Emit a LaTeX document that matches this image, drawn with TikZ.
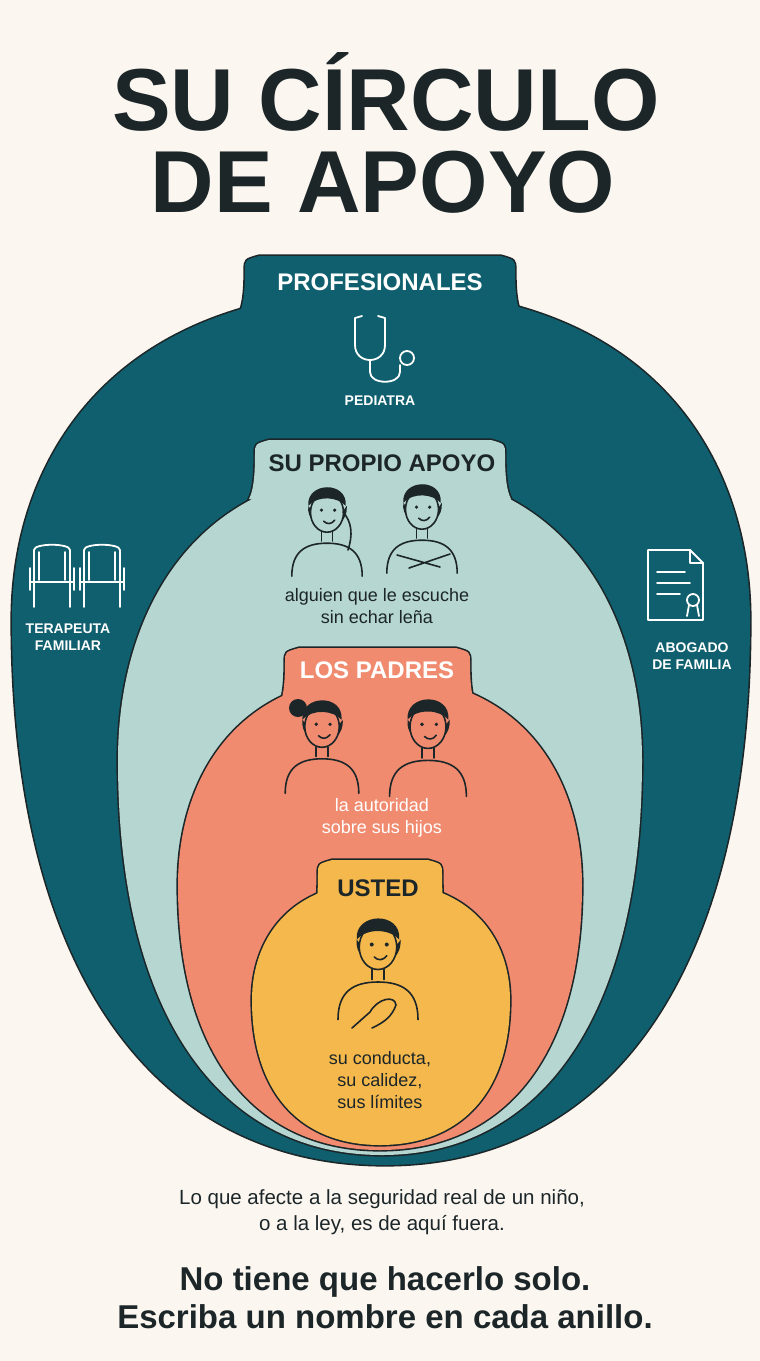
\documentclass[tikz,border=0pt]{standalone}
\usepackage{fontspec}
\setmainfont{Liberation Sans}
\definecolor{bg}{HTML}{FBF7F0}
\definecolor{teal}{HTML}{0F5F6E}
\definecolor{mint}{HTML}{B6D6D1}
\definecolor{salmon}{HTML}{F08B6F}
\definecolor{gold}{HTML}{F5B84C}
\definecolor{ink}{HTML}{1C2629}
\newcommand{\eggpath}[6]{% xL xR yt ym yb xc
 (#6,-#3) .. controls ({#6+0.72*(#2-#6)},-#3) and (#2,{-#3-0.5*(#4-#3)}) .. (#2,-#4)
 .. controls (#2,{-#4-0.66*(#5-#4)}) and ({#6+0.6*(#2-#6)},-#5) .. (#6,-#5)
 .. controls ({#6-0.6*(#6-#1)},-#5) and (#1,{-#4-0.66*(#5-#4)}) .. (#1,-#4)
 .. controls (#1,{-#4+0.5*(#4-#3)}) and ({#6-0.72*(#6-#1)},-#3) .. (#6,-#3) -- cycle}
\newcommand{\tabpath}[4]{% xL xR yt yb
 ({#1-6},{-#4-14}) .. controls ({#1-2},{-#4-6}) and (#1,{-#4+6}) .. (#1,{-#3-14}) .. controls (#1,{-#3-4}) .. ({#1+14},-#3) -- ({#2-14},-#3) .. controls (#2,{-#3-4}) .. (#2,{-#3-14}) .. controls (#2,{-#4+6}) and ({#2+2},{-#4-6}) .. ({#2+6},{-#4-14}) -- cycle}
% \person{x}{y of head centre}{scale}{face colour}
\newcommand{\person}[4]{%
 \begin{scope}[shift={(#1,-#2)}, scale=#3]
  \fill[ink] (-17,2) .. controls (-20,-22) and (20,-24) .. (18,2) .. controls (14,-8) and (-10,-10) .. (-17,2) -- cycle;
  \path[draw=ink, fill=#4, line width=1.6pt] (0,-4) ellipse (15 and 18);
  \fill[ink] (-17,2) .. controls (-19,24) and (19,25) .. (17,2) .. controls (10,10) and (-8,12) .. (-17,2) -- cycle;
  \fill[ink] (-5,-2) circle (1.6) (7,-2) circle (1.6);
  \draw[icon] (-3,-12) .. controls (0,-15) and (4,-15) .. (7,-11);
  \draw[icon] (-5,-22) -- (-5,-30) (5,-22) -- (5,-30);
  \draw[icon] (-32,-62) .. controls (-32,-40) and (-20,-32) .. (0,-32) .. controls (20,-32) and (32,-40) .. (32,-62);
 \end{scope}}
\tikzset{
 lab/.style={font=\bfseries\fontsize{24}{28}\selectfont},
 small/.style={font=\bfseries\fontsize{14}{17}\selectfont, text=white, align=center},
 body/.style={font=\fontsize{18}{22}\selectfont, align=center},
 icon/.style={draw=ink, line width=1.6pt, line cap=round, line join=round},
 iconw/.style={draw=white, line width=1.8pt, line cap=round, line join=round},
}
\begin{document}
\begin{tikzpicture}[x=1pt,y=1pt]
\fill[bg] (0,0) rectangle (760,-1361);
\useasboundingbox (0,0) rectangle (760,-1361);
\node[font=\bfseries\fontsize{88}{90}\selectfont, text=ink] (t1) at (386,-92) {SU CÍRCULO};
\node[font=\bfseries\fontsize{88}{90}\selectfont, text=ink] (t2) at (383,-182) {DE APOYO};
% outer
\path[draw=ink, line width=3.2pt] \eggpath{12}{750}{290}{620}{1165}{385} \tabpath{245}{515}{256}{300};
\path[fill=teal] \eggpath{12}{750}{290}{620}{1165}{385} \tabpath{245}{515}{256}{300};
% mint
\path[draw=ink, line width=3.2pt] \eggpath{118}{642}{470}{760}{1155}{382} \tabpath{255}{505}{440}{485};
\path[fill=mint] \eggpath{118}{642}{470}{760}{1155}{382} \tabpath{255}{505}{440}{485};
% salmon
\path[draw=ink, line width=3.2pt] \eggpath{178}{582}{676}{885}{1150}{380} \tabpath{285}{470}{648}{692};
\path[fill=salmon] \eggpath{178}{582}{676}{885}{1150}{380} \tabpath{285}{470}{648}{692};
% gold
\path[draw=ink, line width=3.2pt] \eggpath{252}{510}{882}{1000}{1145}{380} \tabpath{318}{442}{860}{906};
\path[fill=gold] \eggpath{252}{510}{882}{1000}{1145}{380} \tabpath{318}{442}{860}{906};
% labels
\node[lab, text=white] (p) at (380,-282) {PROFESIONALES};
\node[lab, text=ink] (s) at (382,-463) {SU PROPIO APOYO};
\node[lab, text=white] (l) at (377,-670) {LOS PADRES};
\node[lab, text=ink] (u) at (378,-888) {USTED};
\node[small] (ped) at (380,-401) {PEDIATRA};
\node[small] (ter) at (68,-637) {TERAPEUTA\\FAMILIAR};
\node[small] (abo) at (692,-656) {ABOGADO\\DE FAMILIA};
\node[body, text=ink] (s2) at (377,-606) {alguien que le escuche\\sin echar leña};
\node[body, text=white] (l2) at (382,-818) {la autoridad\\sobre sus hijos};
\node[body, text=ink] (u2) at (380,-1080) {su conducta,\\su calidez,\\sus límites};
\node[font=\fontsize{20.5}{26}\selectfont, align=center, text=ink] (n1) at (382,-1212) {Lo que afecte a la seguridad real de un niño,\\o a la ley, es de aquí fuera.};
\node[font=\bfseries\fontsize{33}{38}\selectfont, align=center, text=ink] (n2) at (385,-1298) {No tiene que hacerlo solo.\\Escriba un nombre en cada anillo.};
% stethoscope
\draw[iconw] (362,-316) -- (355,-318) -- (355,-345) .. controls (355,-365) and (385,-365) .. (385,-345) -- (385,-318) -- (378,-316);
\draw[iconw] (370,-360) -- (370,-372) .. controls (370,-385) and (400,-385) .. (400,-372) -- (400,-365);
\draw[iconw] (407,-358) circle (7);
% chairs
\foreach \cx in {52,102}{
 \draw[iconw] ({\cx-18},-607) -- ({\cx-18},-550) .. controls ({\cx-18},-543) and ({\cx+18},-543) .. ({\cx+18},-550) -- ({\cx+18},-607);
 \draw[iconw] ({\cx-13},-552) -- ({\cx-13},-580) ({\cx+13},-552) -- ({\cx+13},-580);
 \draw[iconw] ({\cx-22},-582) -- ({\cx+22},-582) ({\cx-22},-568) -- ({\cx-22},-590) ({\cx+22},-568) -- ({\cx+22},-590);
}
% document
\draw[iconw] (648,-550) -- (690,-550) -- (703,-563) -- (703,-620) -- (648,-620) -- cycle;
\draw[iconw] (690,-550) -- (690,-563) -- (703,-563);
\draw[iconw] (657,-572) -- (685,-572) (657,-583) -- (690,-583) (657,-594) -- (680,-594);
\draw[iconw] (693,-600) circle (6);
\draw[iconw] (689,-605) -- (687,-616) (697,-605) -- (699,-616);
% people
\person{327}{508}{1.1}{mint}
\draw[icon] (348,-550) .. controls (353,-535) and (352,-522) .. (343,-512);
\person{422}{505}{1.1}{mint}
\draw[icon] (397,-555) -- (440,-567) (409,-568) -- (450,-554);
\person{322}{722}{1.15}{salmon}
\fill[ink] (298,-708) circle (9);
\person{428}{722}{1.2}{salmon}
\person{378}{942}{1.25}{gold}
\draw[icon] (352,-1028) -- (370,-1012) .. controls (378,-998) and (395,-995) .. (396,-1005) .. controls (392,-1016) and (385,-1022) .. (372,-1028);
\end{tikzpicture}
\end{document}
